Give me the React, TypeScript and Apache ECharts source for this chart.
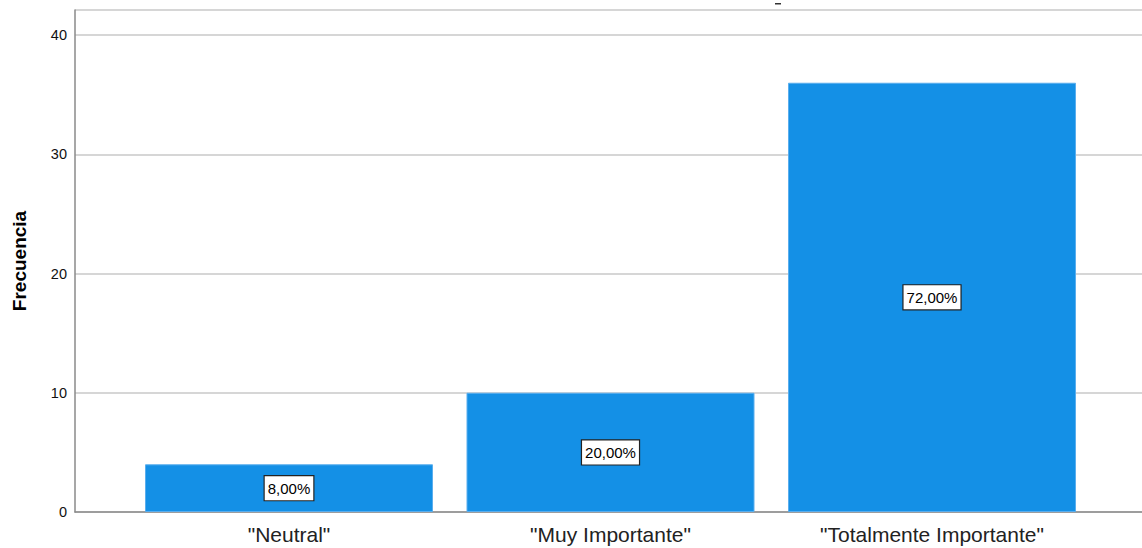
import React, { useEffect, useRef } from "react";
import * as echarts from "echarts";

const categories = ['"Neutral"', '"Muy Importante"', '"Totalmente Importante"'];
const frequencies = [4, 10, 36];
const percentLabels = ["8,00%", "20,00%", "72,00%"];
const yTicks = [0, 10, 20, 30, 40];

export default function App() {
  const ref = useRef<HTMLDivElement>(null);
  useEffect(() => {
    if (!ref.current) return;
    const chart = echarts.init(ref.current, null, { renderer: "svg" });
    const yMax = 42.1;
    const font = "'Liberation Sans', Arial, sans-serif";
    chart.setOption({
      animation: false,
      backgroundColor: "#ffffff",
      textStyle: { fontFamily: font },
      grid: [
        { left: 75, right: 0, top: 10, bottom: 36 },
        { left: 128.25, right: 49.25, top: 10, bottom: 36 },
      ],
      xAxis: [
        {
          type: "category",
          gridIndex: 0,
          data: [""],
          axisLine: { show: true, lineStyle: { color: "#8a8a8a", width: 1.5 } },
          axisTick: { show: false },
          axisLabel: { show: false },
        },
        {
          type: "category",
          gridIndex: 1,
          data: categories,
          axisLine: { show: false },
          axisTick: { show: false },
          axisLabel: {
            color: "#222",
            fontSize: 21,
            fontFamily: font,
            margin: 12,
          },
        },
      ],
      yAxis: [
        {
          type: "value",
          gridIndex: 0,
          min: 0,
          max: yMax,
          interval: 10,
          name: "Frecuencia",
          nameLocation: "middle",
          nameGap: 46,
          nameTextStyle: { fontSize: 19, fontWeight: "bold", color: "#000", fontFamily: font },
          axisLine: { show: true, lineStyle: { color: "#8a8a8a", width: 1.5 } },
          axisTick: { show: false },
          axisLabel: {
            color: "#111",
            fontSize: 14.5,
            margin: 8,
            formatter: (v: number) => (yTicks.includes(v) ? String(v) : ""),
          },
          splitLine: { show: true, lineStyle: { color: "#c8c8c8", width: 1.5 } },
        },
        {
          type: "value",
          gridIndex: 1,
          min: 0,
          max: yMax,
          interval: 10,
          show: false,
          splitLine: { show: false },
        },
      ],
      series: [
        {
          type: "bar",
          xAxisIndex: 1,
          yAxisIndex: 1,
          data: frequencies,
          barWidth: 288,
          itemStyle: { color: "#1490e6", borderColor: "#5aaeee", borderWidth: 1 },
          label: {
            show: true,
            position: "inside",
            formatter: (p: any) => percentLabels[p.dataIndex],
            color: "#000",
            fontSize: 15,
            fontFamily: font,
            backgroundColor: "#ffffff",
            borderColor: "#222",
            borderWidth: 1.2,
            padding: [5, 3, 4, 3],
          },
        },
      ],
      graphic: [
        {
          type: "rect",
          shape: { x: 775, y: 3, width: 6, height: 1.5 },
          style: { fill: "#333" },
        },
      ],
    });
    return () => chart.dispose();
  }, []);
  return <div ref={ref} style={{ width: 1142, height: 548, position: "absolute", left: 0, top: 0 }} />;
}
